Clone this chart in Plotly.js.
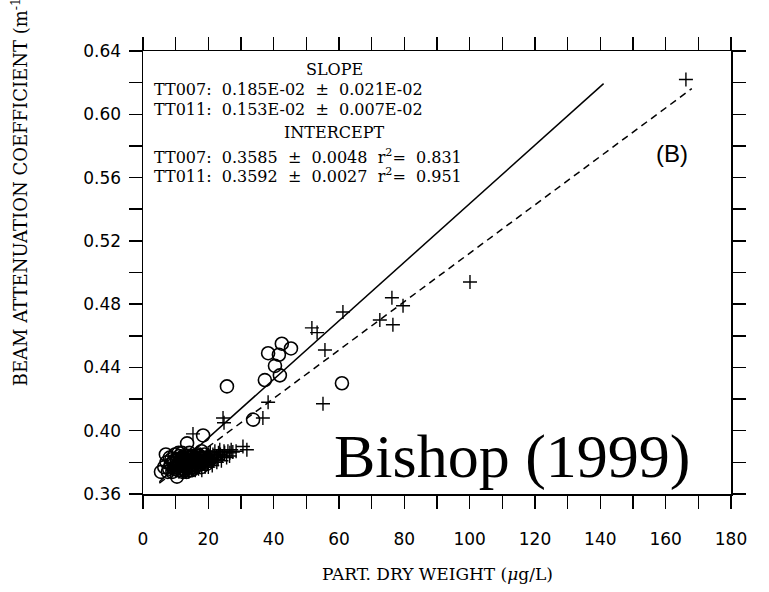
<!DOCTYPE html>
<html>
<head>
<meta charset="utf-8">
<script src="https://cdn.plot.ly/plotly-3.0.1.min.js"></script>
<style>
  html, body { margin: 0; padding: 0; background: #fff; }
  #chart { width: 769px; height: 592px; }
</style>
</head>
<body>
<div id="chart"></div>
<script>
// Station TT007: particle dry weight (ug/L) vs beam attenuation (1/m)
const tt007X = [5.5, 7.0, 10.4, 13.5, 18.4, 25.7, 33.7, 37.3, 38.3, 40.4, 41.6, 41.9, 42.5, 45.3, 60.9,
  8.0, 8.5, 9.0, 9.5, 10.0, 10.3, 10.8, 11.0, 11.4, 11.8, 12.0, 12.3, 12.6, 13.0, 13.2, 13.5, 13.8, 14.0,
  14.3, 14.7, 15.0, 15.4, 15.8, 16.2, 16.6, 17.0, 17.5, 18.0, 18.6, 19.2, 9.2, 10.6, 11.6, 12.8, 13.9,
  15.1, 16.0, 17.2, 11.2, 12.4, 14.5, 19.8, 8.7, 13.6, 16.8,
  6.5, 7.2, 7.6, 8.2, 9.8, 10.9, 12.2, 13.3, 14.8, 15.6, 16.4, 17.8, 18.8, 19.5, 20.3, 21.0, 9.6, 11.9, 14.2, 17.9];
const tt007Y = [0.374, 0.385, 0.371, 0.392, 0.397, 0.428, 0.407, 0.432, 0.449, 0.441, 0.448, 0.435, 0.455, 0.452, 0.430,
  0.376, 0.379, 0.374, 0.381, 0.377, 0.382, 0.375, 0.380, 0.378, 0.383, 0.376, 0.381, 0.379, 0.384, 0.377, 0.382, 0.380, 0.375,
  0.383, 0.378, 0.381, 0.384, 0.379, 0.382, 0.380, 0.384, 0.381, 0.383, 0.380, 0.383, 0.380, 0.378, 0.382, 0.375, 0.384,
  0.377, 0.383, 0.379, 0.384, 0.383, 0.381, 0.382, 0.382, 0.378, 0.385,
  0.377, 0.380, 0.374, 0.383, 0.385, 0.386, 0.374, 0.374, 0.375, 0.376, 0.378, 0.377, 0.385, 0.379, 0.381, 0.383, 0.376, 0.386, 0.386, 0.387];

// Station TT011
const tt011X = [166.2, 100.1, 76.2, 79.6, 72.5, 76.5, 61.2, 51.7, 53.3, 55.7, 55.1, 24.5, 24.8, 15.3, 38.3, 36.7,
  30.6, 31.8, 27.5, 26.6,
  9.5, 10.2, 10.8, 11.3, 11.9, 12.4, 12.9, 13.4, 13.9, 14.4, 14.9, 15.4, 15.9, 16.4, 16.9, 17.4, 17.9, 18.4,
  18.9, 19.4, 19.9, 20.4, 20.9, 21.4, 21.9, 22.5, 23.1, 23.7, 24.3, 25.0, 10.5, 11.6, 12.6, 13.6, 14.6, 15.6,
  16.6, 17.6, 18.6, 19.6, 20.6, 21.6, 22.8, 12.1, 14.1, 16.1, 18.1, 20.1, 13.1, 15.1,
  22.0, 23.5, 24.8, 26.0, 27.0, 21.2, 19.0, 17.0, 22.6, 24.0, 25.6, 8.5, 9.0, 11.0, 12.0, 14.0, 16.0, 18.0,
  20.0, 23.0, 26.5, 28.5];
const tt011Y = [0.622, 0.494, 0.484, 0.479, 0.470, 0.467, 0.475, 0.465, 0.462, 0.451, 0.417, 0.408, 0.405, 0.398, 0.418, 0.408,
  0.390, 0.388, 0.3865, 0.386,
  0.378, 0.375, 0.381, 0.377, 0.379, 0.376, 0.382, 0.378, 0.380, 0.383, 0.377, 0.381, 0.379, 0.383, 0.380, 0.382, 0.378, 0.383,
  0.381, 0.384, 0.380, 0.383, 0.382, 0.385, 0.383, 0.384, 0.386, 0.385, 0.384, 0.386, 0.380, 0.383, 0.379, 0.376, 0.384, 0.382,
  0.377, 0.385, 0.380, 0.382, 0.386, 0.381, 0.383, 0.382, 0.378, 0.385, 0.384, 0.385, 0.374, 0.375,
  0.387, 0.388, 0.387, 0.387, 0.388, 0.378, 0.377, 0.376, 0.380, 0.381, 0.383, 0.377, 0.375, 0.374, 0.374, 0.374, 0.375, 0.375,
  0.377, 0.382, 0.384, 0.387];

// Regression results
const fitNames = ['TT007', 'TT011'];
const fitSlope = [0.185e-2, 0.153e-2];
const fitIntercept = [0.3585, 0.3592];
const fitXRange = [[5, 141], [5, 168]];

// Axis ticks
const xTickVals = [0, 10, 20, 30, 40, 50, 60, 70, 80, 90, 100, 110, 120, 130, 140, 150, 160, 170, 180];
const xTickText = ['0', '', '20', '', '40', '', '60', '', '80', '', '100', '', '120', '', '140', '', '160', '', '180'];
const yTickVals = [0.36, 0.38, 0.40, 0.42, 0.44, 0.46, 0.48, 0.50, 0.52, 0.54, 0.56, 0.58, 0.60, 0.62, 0.64];
const yTickText = ['0.36', '', '0.40', '', '0.44', '', '0.48', '', '0.52', '', '0.56', '', '0.60', '', '0.64'];

const fitLines = fitNames.map((name, i) => ({
  x: fitXRange[i],
  y: fitXRange[i].map(v => fitIntercept[i] + fitSlope[i] * v),
  mode: 'lines',
  type: 'scatter',
  name: name + ' fit',
  line: { color: '#000', width: 1.5, dash: i === 0 ? 'solid' : '7px,5px' },
  hoverinfo: 'skip'
}));

const traces = [
  {
    x: tt007X, y: tt007Y, mode: 'markers', type: 'scatter', name: 'TT007',
    marker: { symbol: 'circle-open', size: 13, color: '#000', line: { width: 1.6, color: '#000' } }
  },
  {
    x: tt011X, y: tt011Y, mode: 'markers', type: 'scatter', name: 'TT011',
    marker: { symbol: 'cross-thin-open', size: 10, color: '#000', line: { width: 1.4, color: '#000' } }
  },
  ...fitLines
];

const serif = '"DejaVu Serif", serif';
const statFont = { family: serif, size: 16, color: '#000' };
// plotter-style wide word gap
const gap = ' \u00A0';
const statLine = parts => parts.join(gap);

const axisCommon = {
  showline: true, linecolor: '#000', linewidth: 1.5, mirror: 'ticks',
  ticks: 'outside', ticklen: 13, tickwidth: 1.5, tickcolor: '#000',
  showgrid: false, zeroline: false,
  tickfont: { family: '"DejaVu Sans", sans-serif', size: 17, color: '#000' }
};

const layout = {
  width: 769, height: 592,
  margin: { l: 143, r: 38, t: 51, b: 98 },
  paper_bgcolor: '#fff', plot_bgcolor: '#fff',
  showlegend: false,
  xaxis: Object.assign({}, axisCommon, {
    range: [0, 180], tickmode: 'array', tickvals: xTickVals, ticktext: xTickText,
    ticklabelstandoff: 16
  }),
  yaxis: Object.assign({}, axisCommon, {
    range: [0.36, 0.64], tickmode: 'array', tickvals: yTickVals, ticktext: yTickText,
    ticklabelstandoff: 4
  }),
  annotations: [
    { xref: 'paper', yref: 'paper', x: 0.5, y: 0, yshift: -80, xanchor: 'center', yanchor: 'middle',
      text: 'PART. DRY WEIGHT (<i>μ</i>g/L)', showarrow: false, font: { family: serif, size: 17, color: '#000' } },
    { xref: 'paper', yref: 'paper', x: -0.209, y: 0.688, xanchor: 'center', yanchor: 'middle', textangle: -90,
      text: 'BEAM ATTENUATION COEFFICIENT (m<sup>-1</sup>)', showarrow: false, font: { family: serif, size: 18, color: '#000' } },
    { xref: 'x', yref: 'y', x: 58.5, y: 0.628, xanchor: 'center', yanchor: 'middle', text: 'SLOPE', showarrow: false, font: statFont },
    { xref: 'x', yref: 'y', x: 2.8, y: 0.6155, xanchor: 'left', yanchor: 'middle',
      text: statLine([fitNames[0] + ':', '0.185E-02', '±', '0.021E-02']), showarrow: false, font: statFont },
    { xref: 'x', yref: 'y', x: 2.8, y: 0.6030, xanchor: 'left', yanchor: 'middle',
      text: statLine([fitNames[1] + ':', '0.153E-02', '±', '0.007E-02']), showarrow: false, font: statFont },
    { xref: 'x', yref: 'y', x: 58.5, y: 0.5885, xanchor: 'center', yanchor: 'middle', text: 'INTERCEPT', showarrow: false, font: statFont },
    { xref: 'x', yref: 'y', x: 2.8, y: 0.5735, xanchor: 'left', yanchor: 'middle',
      text: statLine([fitNames[0] + ':', '0.3585', '±', '0.0048', 'r<sup>2</sup>=', '0.831']), showarrow: false, font: statFont },
    { xref: 'x', yref: 'y', x: 2.8, y: 0.5610, xanchor: 'left', yanchor: 'middle',
      text: statLine([fitNames[1] + ':', '0.3592', '±', '0.0027', 'r<sup>2</sup>=', '0.951']), showarrow: false, font: statFont },
    { xref: 'x', yref: 'y', x: 162, y: 0.5750, xanchor: 'center', yanchor: 'middle', text: '(B)', showarrow: false,
      font: { family: '"Liberation Sans", Arial, sans-serif', size: 24, color: '#000' } },
    { xref: 'x', yref: 'y', x: 113, y: 0.384, xanchor: 'center', yanchor: 'middle', text: 'Bishop (1999)', showarrow: false,
      font: { family: '"Liberation Serif", "Times New Roman", serif', size: 62, color: '#000' } }
  ]
};

Plotly.newPlot('chart', traces, layout, { staticPlot: true, displayModeBar: false });
</script>
</body>
</html>
